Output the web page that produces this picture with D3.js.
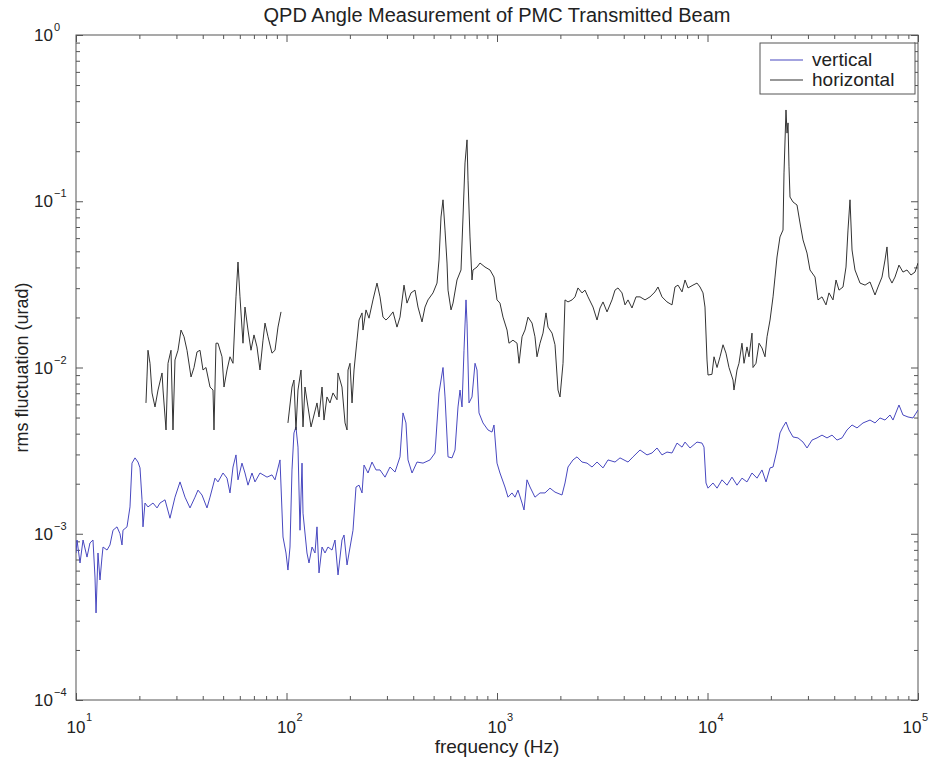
<!DOCTYPE html>
<html>
<head>
<meta charset="utf-8">
<script src="https://cdn.jsdelivr.net/npm/d3@7"></script>
<style>
  body { margin: 0; background: #fff; }
  svg { display: block; }
  text { font-family: "Liberation Sans", Arial, Helvetica, sans-serif; fill: #222; }
</style>
</head>
<body>
<svg id="chart" width="930" height="761"></svg>
<script>
// Labels
const titleText = "QPD Angle Measurement of PMC Transmitted Beam";
const xLabelText = "frequency (Hz)";
const yLabelText = "rms fluctuation (urad)";
const seriesNames = ["vertical", "horizontal"];
const xTickExponents = [1, 2, 3, 4, 5];
const yTickExponents = [0, -1, -2, -3, -4];

// Vertical angle: [frequency (Hz), rms fluctuation (urad)]
const vertical = [
  [10,7.66e-4],[10.11,9.17e-4],[10.45,6.67e-4],[10.80,9.17e-4],[11.28,7.24e-4],[11.65,8.80e-4],[12.04,9.17e-4],[12.31,5.49e-4],[12.45,3.34e-4],[12.72,7.66e-4],
  [13.00,5.27e-4],[13.29,7.24e-4],[13.44,8.32e-4],[14.04,7.98e-4],[14.50,8.56e-4],[14.99,1.05e-3],[15.66,1.10e-3],[16.18,1.00e-3],[16.54,8.56e-4],[16.72,1.05e-3],
  [17.47,1.10e-3],[18.05,1.45e-3],[18.45,2.66e-3],[19.07,2.86e-3],[19.70,2.70e-3],[20.14,2.49e-3],[20.59,1.60e-3],[20.81,1.10e-3],[21.27,1.53e-3],[21.98,1.45e-3],
  [23.22,1.53e-3],[24.26,1.43e-3],[25.06,1.53e-3],[26.48,1.60e-3],[27.96,1.24e-3],[29.53,1.66e-3],[31.20,2.05e-3],[32.95,1.66e-3],[34.80,1.43e-3],[36.76,1.66e-3],
  [37.98,1.83e-3],[39.68,1.71e-3],[41.91,1.43e-3],[43.31,1.66e-3],[45.74,2.16e-3],[47.27,2.05e-3],[49.93,2.32e-3],[52.16,2.16e-3],[53.90,1.76e-3],[55.70,2.52e-3],
  [57.55,2.98e-3],[58.82,2.11e-3],[61.45,2.66e-3],[63.50,2.32e-3],[65.62,1.96e-3],[68.56,2.32e-3],[70.85,2.05e-3],[74.83,2.32e-3],[80.81,2.19e-3],[85.33,2.26e-3],
  [88.18,2.11e-3],[93.14,2.78e-3],[96.25,9.56e-4],[99.45,7.66e-4],[101.6,6.05e-4],[103.9,8.32e-4],[106.2,2.42e-3],[108.5,4.04e-3],[110.9,4.39e-3],[113.4,3.32e-3],
  [115.9,1.05e-3],[118.5,2.66e-3],[119.8,1.33e-3],[125.1,7.66e-4],[127.9,6.67e-4],[132.2,8.32e-4],[136.6,7.66e-4],[139.6,1.10e-3],[142.7,5.81e-4],[147.5,8.32e-4],
  [152.4,7.66e-4],[157.4,8.32e-4],[164.5,7.98e-4],[170.0,9.17e-4],[175.7,5.65e-4],[183.5,9.17e-4],[187.6,9.83e-4],[193.9,6.49e-4],[198.2,7.66e-4],[207.0,1.05e-3],
  [213.9,1.91e-3],[221.1,1.96e-3],[228.5,1.76e-3],[233.5,2.59e-3],[243.9,2.32e-3],[254.8,2.70e-3],[266.2,2.42e-3],[278.1,2.42e-3],[293.8,2.19e-3],[310.2,2.52e-3],
  [327.7,2.35e-3],[346.1,2.90e-3],[357.6,5.33e-3],[369.5,4.64e-3],[377.7,2.78e-3],[394.8,2.32e-3],[416.9,2.70e-3],[445.3,2.66e-3],[480.5,2.78e-3],[507.6,3.06e-3],
  [530.3,7.03e-3],[554.0,1.00e-2],[566.3,6.65e-3],[585.2,2.90e-3],[611.4,2.86e-3],[631.8,3.19e-3],[652.8,5.79e-3],[667.3,7.32e-3],[682.0,5.79e-3],[697.1,1.27e-2],
  [712.5,2.55e-2],[720.4,1.85e-2],[736.3,6.12e-3],[760.8,6.65e-3],[786.3,1.06e-2],[803.5,9.66e-3],[821.3,5.33e-3],[858.0,4.64e-3],[906.2,4.21e-3],[946.7,4.09e-3],
  [967.6,4.51e-3],[1000,2.66e-3],[1033,2.32e-3],[1091,1.91e-3],[1128,1.66e-3],[1178,1.76e-3],[1218,1.66e-3],[1258,1.83e-3],[1315,1.53e-3],[1344,1.39e-3],
  [1388,2.11e-3],[1435,1.91e-3],[1515,1.66e-3],[1601,1.76e-3],[1690,1.76e-3],[1785,1.88e-3],[1886,1.78e-3],[2036,1.71e-3],[2104,2.02e-3],[2174,2.52e-3],
  [2296,2.78e-3],[2399,2.90e-3],[2534,2.70e-3],[2677,2.66e-3],[2827,2.52e-3],[2987,2.70e-3],[3189,2.49e-3],[3368,2.78e-3],[3636,2.70e-3],[3840,2.86e-3],
  [4192,2.70e-3],[4428,2.90e-3],[4780,3.19e-3],[5160,2.98e-3],[5450,3.06e-3],[5756,3.28e-3],[6079,2.98e-3],[6421,3.10e-3],[6783,3.06e-3],[7164,3.51e-3],
  [7568,3.32e-3],[7820,3.56e-3],[8258,3.28e-3],[8916,3.56e-3],[9417,3.51e-3],[9625,3.32e-3],[9838,2.02e-3],[10055,1.88e-3],[10620,2.02e-3],[11100,1.88e-3],
  [11720,2.11e-3],[12380,1.96e-3],[13070,2.19e-3],[13810,1.96e-3],[14580,2.16e-3],[15400,2.05e-3],[16270,2.32e-3],[17190,2.16e-3],[18150,2.42e-3],[18970,2.05e-3],
  [19820,2.49e-3],[20480,2.52e-3],[21390,3.19e-3],[22100,4.04e-3],[22840,4.39e-3],[23600,4.70e-3],[24390,4.21e-3],[25480,3.82e-3],[26910,3.77e-3],[28430,3.56e-3],
  [29700,3.28e-3],[31370,3.66e-3],[33130,3.77e-3],[34990,3.92e-3],[36960,3.77e-3],[39040,3.92e-3],[41240,3.66e-3],[43550,3.77e-3],[46000,4.21e-3],[48600,4.51e-3],
  [51320,4.33e-3],[54800,4.64e-3],[59160,4.83e-3],[62480,4.64e-3],[66000,4.97e-3],[69700,4.83e-3],[73620,5.18e-3],[76080,4.83e-3],[81220,5.95e-3],[84850,5.18e-3],
  [89660,5.04e-3],[94670,4.97e-3],[100000,5.55e-3]
];

// Horizontal angle: [frequency (Hz), rms fluctuation (urad)]; null = no data near 100 Hz
const horizontal = [
  [21.50,6.12e-3],[21.74,8.77e-3],[21.98,1.27e-2],[22.47,1.06e-2],[22.97,7.03e-3],[23.73,5.79e-3],[24.53,7.32e-3],[25.63,9.27e-3],[25.91,7.32e-3],[26.77,4.21e-3],
  [27.36,1.06e-2],[28.27,1.27e-2],[28.89,4.21e-3],[29.53,1.11e-2],[30.52,1.27e-2],[31.54,1.68e-2],[32.60,1.53e-2],[33.68,1.27e-2],[35.19,8.77e-3],[36.36,1.00e-2],
  [37.57,1.24e-2],[38.82,1.27e-2],[40.11,9.66e-3],[41.45,1.00e-2],[43.31,7.63e-3],[44.75,7.32e-3],[45.24,4.21e-3],[46.24,1.40e-2],[47.27,1.40e-2],[49.39,1.16e-2],
  [50.48,7.63e-3],[52.16,9.66e-3],[53.90,1.16e-2],[55.70,1.06e-2],[57.55,2.66e-2],[58.82,4.31e-2],[60.12,2.66e-2],[62.13,1.40e-2],[63.50,2.31e-2],[65.62,1.68e-2],
  [67.81,1.27e-2],[70.08,1.57e-2],[72.42,1.33e-2],[74.83,9.66e-3],[77.34,1.46e-2],[79.05,1.85e-2],[81.70,1.53e-2],[85.33,1.22e-2],[88.18,1.27e-2],[91.12,1.75e-2],
  [94.17,2.16e-2],[98,null],
  [101.6,4.64e-3],[106.2,7.63e-3],[108.5,8.41e-3],[110.9,4.21e-3],[113.4,7.32e-3],[117.2,9.66e-3],[119.8,4.39e-3],[122.4,7.63e-3],[126.5,5.79e-3],[130.8,4.39e-3],
  [139.6,6.12e-3],[142.7,5.04e-3],[147.5,7.63e-3],[150.7,4.83e-3],[155.7,6.65e-3],[160.9,6.12e-3],[166.3,7.03e-3],[173.8,6.40e-3],[175.7,9.27e-3],[183.5,7.63e-3],
  [189.7,4.64e-3],[193.9,4.21e-3],[196.0,9.66e-3],[200.3,1.06e-2],[204.8,6.12e-3],[209.3,9.66e-3],[216.2,1.46e-2],[221.1,1.93e-2],[228.5,2.13e-2],[230.9,1.68e-2],
  [238.6,2.22e-2],[246.6,1.98e-2],[257.5,2.55e-2],[269.1,3.22e-2],[278.1,2.66e-2],[287.3,2.01e-2],[296.9,1.93e-2],[306.8,2.01e-2],[320.6,2.16e-2],[334.9,1.75e-2],
  [346.1,2.01e-2],[361.6,3.13e-2],[373.6,2.44e-2],[390.5,2.81e-2],[407.8,2.92e-2],[421.4,2.31e-2],[440.4,1.88e-2],[455.0,2.31e-2],[470.0,2.55e-2],[496.6,2.81e-2],
  [518.8,3.22e-2],[530.3,4.43e-2],[542.0,8.04e-2],[554.0,0.102],[566.3,6.71e-2],[578.9,4.25e-2],[585.2,2.92e-2],[604.8,2.22e-2],[618.1,2.44e-2],[645.6,3.36e-2],
  [674.5,3.86e-2],[689.5,8.04e-2],[704.7,0.170],[720.4,0.234],[728.3,0.134],[744.2,6.10e-2],[760.8,3.36e-2],[769.1,3.86e-2],[803.5,4.02e-2],[830.4,4.25e-2],
  [877.0,4.02e-2],[926.3,3.86e-2],[967.6,3.50e-2],[1000,2.55e-2],[1033,2.44e-2],[1068,2.01e-2],[1116,1.68e-2],[1140,1.40e-2],[1191,1.46e-2],[1245,1.40e-2],
  [1273,1.06e-2],[1315,1.53e-2],[1358,1.68e-2],[1404,2.01e-2],[1467,1.85e-2],[1515,1.53e-2],[1549,1.16e-2],[1601,1.40e-2],[1654,1.61e-2],[1709,2.13e-2],
  [1747,1.75e-2],[1826,1.61e-2],[1886,1.37e-2],[1949,7.32e-3],[1992,6.65e-3],[2059,1.06e-2],[2104,2.55e-2],[2174,2.48e-2],[2272,2.55e-2],[2347,2.66e-2],
  [2425,3.01e-2],[2534,2.81e-2],[2619,2.92e-2],[2706,2.66e-2],[2858,2.31e-2],[2987,1.93e-2],[3086,2.28e-2],[3189,2.48e-2],[3332,2.16e-2],[3518,2.55e-2],
  [3636,2.92e-2],[3756,3.01e-2],[3925,2.81e-2],[4056,2.38e-2],[4192,2.55e-2],[4378,2.28e-2],[4575,2.66e-2],[4780,2.66e-2],[5049,2.55e-2],[5332,2.66e-2],
  [5632,2.85e-2],[5818,3.05e-2],[6079,2.66e-2],[6421,2.48e-2],[6783,2.38e-2],[7007,3.05e-2],[7243,3.13e-2],[7568,2.85e-2],[7820,3.36e-2],[8081,3.01e-2],
  [8533,3.13e-2],[8916,3.22e-2],[9213,3.05e-2],[9520,2.81e-2],[9730,2.31e-2],[9946,1.11e-2],[10055,9.01e-3],[10500,9.10e-3],[10740,1.16e-2],[11100,1.00e-2],
  [11470,1.16e-2],[11850,1.37e-2],[12240,1.22e-2],[12650,1.00e-2],[13220,8.41e-3],[13360,7.32e-3],[13810,9.66e-3],[14110,1.06e-2],[14580,1.40e-2],[14910,1.06e-2],
  [15400,1.33e-2],[15740,1.16e-2],[16270,1.61e-2],[16450,1.00e-2],[17000,1.06e-2],[17570,1.40e-2],[18150,1.31e-2],[18760,1.16e-2],[19180,1.53e-2],[19820,1.93e-2],
  [20480,2.66e-2],[20930,3.50e-2],[21390,4.62e-2],[22100,6.10e-2],[22840,6.71e-2],[23090,0.148],[23600,0.354],[23870,0.257],[24130,0.296],[24390,0.161],
  [24660,0.106],[25480,9.90e-2],[26620,9.49e-2],[27510,7.40e-2],[28430,5.85e-2],[29700,4.88e-2],[30690,3.86e-2],[32420,3.50e-2],[33490,2.55e-2],[34990,2.66e-2],
  [36550,2.38e-2],[37770,2.81e-2],[39470,2.55e-2],[40790,3.36e-2],[42140,2.92e-2],[44030,3.05e-2],[45500,4.02e-2],[46500,6.71e-2],[47530,0.102],[48600,5.09e-2],
  [50200,3.86e-2],[53040,3.22e-2],[56030,3.13e-2],[59160,3.27e-2],[62480,2.73e-2],[64570,3.05e-2],[67450,3.50e-2],[69700,4.43e-2],[71230,5.31e-2],[72810,3.50e-2],
  [75230,3.22e-2],[77750,3.50e-2],[81220,4.13e-2],[84850,3.75e-2],[88640,3.86e-2],[92620,3.60e-2],[96770,3.75e-2],[100000,4.25e-2]
];

const seriesColors = ["#4848c0", "#333333"];

const margin = { left: 76, right: 12, top: 35, bottom: 61 };
const W = 930, H = 761;
const svg = d3.select("#chart");
svg.append("rect").attr("width", W).attr("height", H).attr("fill", "#fff");

const x = d3.scaleLog().domain([1e1, 1e5]).range([margin.left, W - margin.right]);
const y = d3.scaleLog().domain([1e-4, 1e0]).range([H - margin.bottom, margin.top]);
const [x0, x1] = x.range();
const [y0, y1] = y.range(); // y0 bottom, y1 top

// Log tick positions: decades (major) and 2..9 multiples (minor)
function logTicks(lo, hi) {
  const major = [], minor = [];
  for (let e = lo; e <= hi; e++) {
    major.push(Math.pow(10, e));
    if (e < hi) for (let k = 2; k <= 9; k++) minor.push(k * Math.pow(10, e));
  }
  return { major, minor };
}
const xt = logTicks(1, 5);
const yt = logTicks(-4, 0);

const axisColor = "#555";
function styleAxis(g) {
  g.select(".domain").remove();
  g.selectAll(".tick line").attr("stroke", axisColor).attr("stroke-width", 1);
}
const plainFmt = () => "";

// Inward ticks on all four sides
[[xt.minor, 4], [xt.major, 7]].forEach(([vals, len]) => {
  svg.append("g").attr("transform", `translate(0,${y0})`)
    .call(d3.axisBottom(x).tickValues(vals).tickSize(-len).tickFormat(plainFmt)).call(styleAxis);
  svg.append("g").attr("transform", `translate(0,${y1})`)
    .call(d3.axisTop(x).tickValues(vals).tickSize(-len).tickFormat(plainFmt)).call(styleAxis);
});
[[yt.minor, 4], [yt.major, 7]].forEach(([vals, len]) => {
  svg.append("g").attr("transform", `translate(${x0},0)`)
    .call(d3.axisLeft(y).tickValues(vals).tickSize(-len).tickFormat(plainFmt)).call(styleAxis);
  svg.append("g").attr("transform", `translate(${x1},0)`)
    .call(d3.axisRight(y).tickValues(vals).tickSize(-len).tickFormat(plainFmt)).call(styleAxis);
});

// Frame
svg.append("rect")
  .attr("x", x0).attr("y", y1).attr("width", x1 - x0).attr("height", y0 - y1)
  .attr("fill", "none").attr("stroke", axisColor).attr("stroke-width", 1);

// Tick labels: 10 with superscript exponent
const supText = e => (e < 0 ? "\u2212" + Math.abs(e) : String(e));
const xl = svg.append("g").attr("class", "x-labels");
xTickExponents.forEach(e => {
  const px = x(Math.pow(10, e));
  const supX = Math.min(px + 10, W - 8);      // keep the last exponent inside the page
  const baseX = Math.min(px, supX - 10);
  xl.append("text").attr("x", baseX).attr("y", y0 + 33).attr("text-anchor", "middle")
    .attr("font-size", 17).text("10");
  xl.append("text").attr("x", supX).attr("y", y0 + 21).attr("font-size", 11).text(supText(e));
});
const yl = svg.append("g").attr("class", "y-labels");
yTickExponents.forEach(e => {
  const py = y(Math.pow(10, e));
  yl.append("text").attr("x", 34).attr("y", py + 6).attr("font-size", 17).text("10");
  yl.append("text").attr("x", 54).attr("y", py - 4).attr("font-size", 11).text(supText(e));
});

// Title and axis labels
svg.append("text").attr("x", (x0 + x1) / 2).attr("y", 22).attr("text-anchor", "middle")
  .attr("font-size", 20).text(titleText);
svg.append("text").attr("x", (x0 + x1) / 2).attr("y", 753).attr("text-anchor", "middle")
  .attr("font-size", 19).text(xLabelText);
svg.append("text").attr("transform", `translate(28,${(y0 + y1) / 2}) rotate(-90)`)
  .attr("text-anchor", "middle").attr("font-size", 18).text(yLabelText);

// Data lines
svg.append("clipPath").attr("id", "plot-clip").append("rect")
  .attr("x", x0).attr("y", y1).attr("width", x1 - x0).attr("height", y0 - y1);
const line = d3.line()
  .defined(d => d[1] != null)
  .x(d => x(d[0]))
  .y(d => y(d[1]));
const plot = svg.append("g").attr("clip-path", "url(#plot-clip)");
[vertical, horizontal].forEach((data, i) => {
  plot.append("path").datum(data)
    .attr("fill", "none").attr("stroke", seriesColors[i]).attr("stroke-width", 1)
    .attr("stroke-linejoin", "round").attr("d", line);
});

// Legend
const lg = svg.append("g").attr("class", "legend");
lg.append("rect").attr("x", 760).attr("y", 43).attr("width", 155).attr("height", 51)
  .attr("fill", "#fff").attr("stroke", axisColor).attr("stroke-width", 1);
seriesNames.forEach((name, i) => {
  const ly = 60 + i * 20;
  lg.append("line").attr("x1", 770).attr("x2", 803).attr("y1", ly).attr("y2", ly)
    .attr("stroke", seriesColors[i]).attr("stroke-width", 1.2);
  lg.append("text").attr("x", 812).attr("y", ly + 6).attr("font-size", 19).text(name);
});
</script>
</body>
</html>
